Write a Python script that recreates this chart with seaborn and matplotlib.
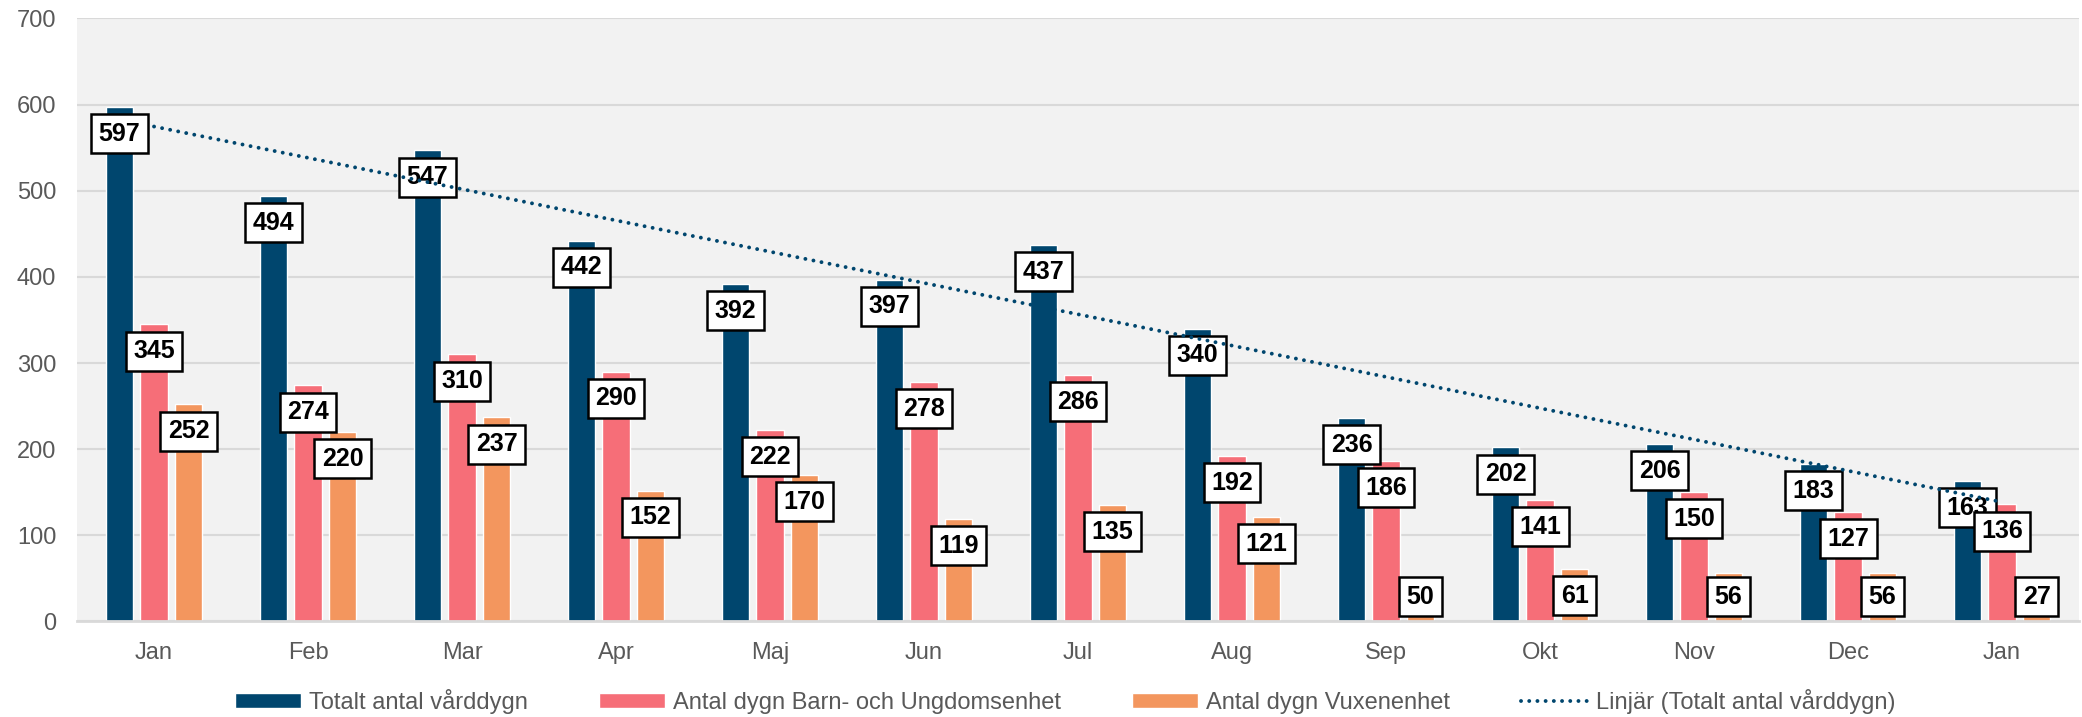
import numpy as np
import pandas as pd
import seaborn as sns
import matplotlib.pyplot as plt

months = ["Jan", "Feb", "Mar", "Apr", "Maj", "Jun", "Jul", "Aug", "Sep", "Okt", "Nov", "Dec", "Jan"]
totalt = [597, 494, 547, 442, 392, 397, 437, 340, 236, 202, 206, 183, 163]
barn = [345, 274, 310, 290, 222, 278, 286, 192, 186, 141, 150, 127, 136]
vuxen = [252, 220, 237, 152, 170, 119, 135, 121, 50, 61, 56, 56, 27]

series_names = ["Totalt antal vårddygn", "Antal dygn Barn- och Ungdomsenhet", "Antal dygn Vuxenenhet"]
colors = ["#00466E", "#F66E78", "#F3965E"]
trend_name = "Linjär (Totalt antal vårddygn)"

sns.set_theme(style="white")
plt.rcParams['font.family'] = ['Liberation Sans', 'DejaVu Sans']

# long format, index as x so the two "Jan" stay separate
rows = []
for name, vals in zip(series_names, [totalt, barn, vuxen]):
    for i, v in enumerate(vals):
        rows.append({"idx": i, "serie": name, "value": v})
df = pd.DataFrame(rows)

fig = plt.figure(figsize=(20.82, 7.17), dpi=100)
ax = fig.add_axes([0.037, 0.1332, 0.9616, 0.841])
ax.set_facecolor("#F2F2F2")

sns.barplot(data=df, x="idx", y="value", hue="serie", palette=colors,
            width=0.672, gap=0.2, saturation=1, ax=ax, zorder=2)

ax.set_ylim(0, 700)
ax.set_xlim(-0.5, len(months) - 0.5)
ax.set_yticks(range(0, 701, 100))
ax.set_xticks(range(len(months)))
ax.set_xticklabels(months)
ax.set_xlabel("")
ax.set_ylabel("")
ax.yaxis.grid(True, color="#D9D9D9", linewidth=1.5, zorder=0)
ax.set_axisbelow(True)
for s in ["top", "right", "left"]:
    ax.spines[s].set_visible(False)
ax.spines["bottom"].set_color("#D9D9D9")
ax.spines["bottom"].set_linewidth(2)
ax.tick_params(axis="both", length=0, labelsize=17, labelcolor="#595959", pad=15)

# data labels
for cont, vals in zip(ax.containers, [totalt, barn, vuxen]):
    for bar, v in zip(cont, vals):
        xc = bar.get_x() + bar.get_width() / 2
        ax.text(xc, max(v - 31, 29), str(v), ha="center", va="center",
                fontsize=18, fontweight="bold", color="black", zorder=5,
                bbox=dict(boxstyle="square,pad=0.3", fc="white", ec="black", lw=1.8))

# linear trend of total
xs = np.arange(len(totalt))
k, m = np.polyfit(xs, totalt, 1)
trend, = ax.plot(xs, k * xs + m, color="#00466E", lw=2.8, linestyle=(0, (0.01, 2.1)),
                 dash_capstyle="round", zorder=6, label=trend_name)

handles, labels = ax.get_legend_handles_labels()
ax.get_legend().remove()
fig.legend(handles, labels, loc="center", bbox_to_anchor=(0.5115, 0.022), ncol=4,
           frameon=False, fontsize=17, labelcolor="#595959", handlelength=2.8,
           handleheight=0.6, handletextpad=0.35, columnspacing=3.0)

fig.savefig("out.png", dpi=100)
